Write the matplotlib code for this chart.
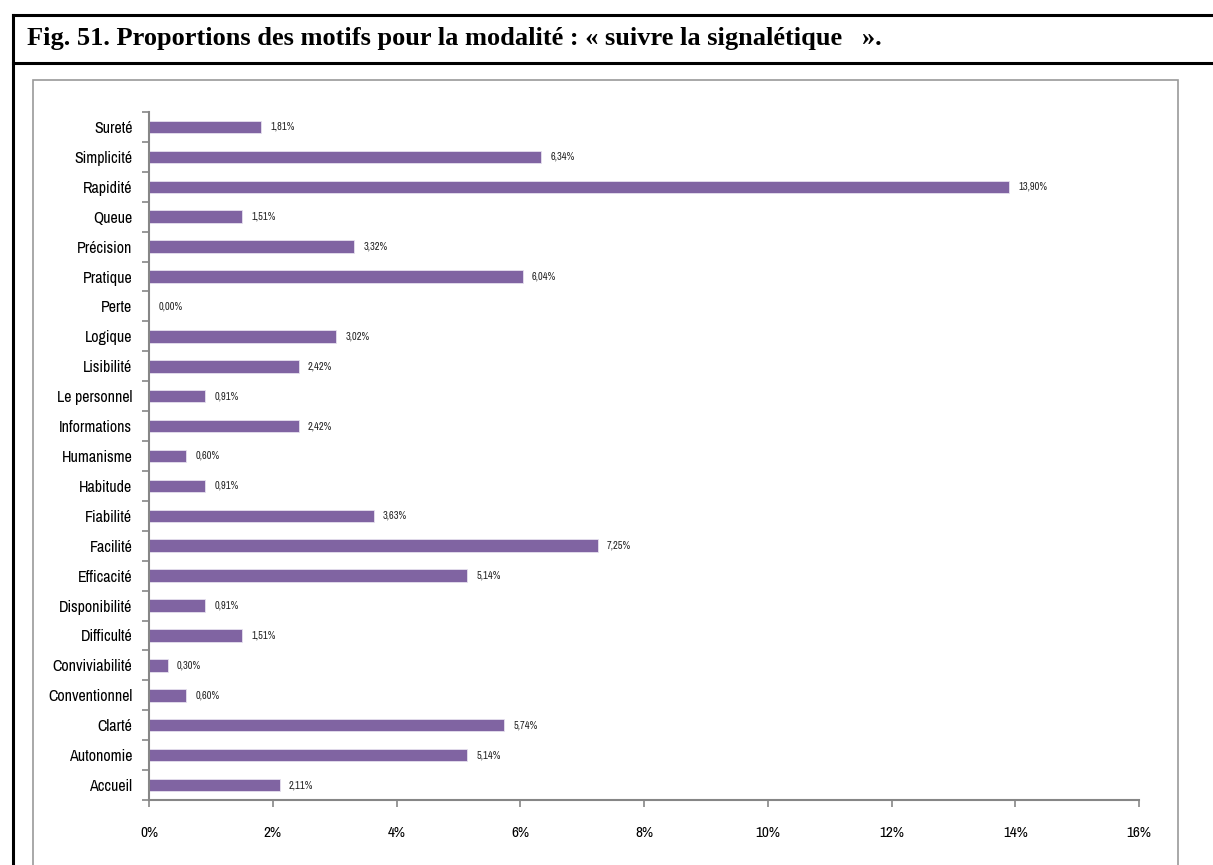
import matplotlib.pyplot as plt
from matplotlib.lines import Line2D
from matplotlib.patches import Rectangle
from matplotlib import font_manager

# data, bottom to top as in the chart
categories = ["Accueil", "Autonomie", "Clarté", "Conventionnel", "Conviviabilité",
              "Difficulté", "Disponibilité", "Efficacité", "Facilité", "Fiabilité",
              "Habitude", "Humanisme", "Informations", "Le personnel", "Lisibilité",
              "Logique", "Perte", "Pratique", "Précision", "Queue", "Rapidité",
              "Simplicité", "Sureté"]
values = [2.11, 5.14, 5.74, 0.60, 0.30, 1.51, 0.91, 5.14, 7.25, 3.63,
          0.91, 0.60, 2.42, 0.91, 2.42, 3.02, 0.00, 6.04, 3.32, 1.51, 13.90,
          6.34, 1.81]
xticks = [0, 2, 4, 6, 8, 10, 12, 14, 16]


def narrow_font():
    # look for any condensed / narrow face that is installed
    found = []
    for f in font_manager.fontManager.ttflist:
        fname = f.fname.lower()
        if ("condensed" in fname or "narrow" in fname) and "bold" not in fname \
                and "italic" not in fname and "oblique" not in fname:
            found.append(f)
    if not found:
        return None
    found.sort(key=lambda f: ("narrow" not in f.fname.lower(), f.fname))
    return font_manager.FontProperties(fname=found[0].fname)


W, H = 1213, 865
fig = plt.figure(figsize=(W / 100, H / 100), dpi=100)
nf = narrow_font()
if nf is None:
    nf = font_manager.FontProperties(family="DejaVu Sans")

# frame of the figure box
black = dict(color="black", lw=2.2, transform=fig.transFigure)
fig.add_artist(Line2D([13 / W, 13 / W], [1 - 15 / H, 0], **black))
fig.add_artist(Line2D([13 / W, 1], [1 - 15 / H, 1 - 15 / H], **black))
fig.add_artist(Line2D([13 / W, 1], [1 - 63 / H, 1 - 63 / H], **black))
fig.add_artist(Rectangle((33 / W, -0.01), (1178 - 33) / W, 1 - 80 / H + 0.01,
                         fill=False, ec="#9a9a9a", lw=1.2, transform=fig.transFigure))

fig.text(27 / W, 1 - 39 / H,
         "Fig. 51. Proportions des motifs pour la modalité : « suivre la signalétique   ».",
         family="Liberation Serif", weight="bold", fontsize=19, va="center", ha="left")

ax = fig.add_axes([149 / W, 1 - 800 / H, (1139 - 149) / W, (800 - 112) / H])
y = list(range(len(categories)))
ax.barh(y, values, height=0.42, color="#8064A2", edgecolor="#e6e0ee", linewidth=0.6)

for yi, v in zip(y, values):
    ax.text(v + 0.15, yi, f"{v:.2f}%".replace(".", ","), va="center", ha="left",
            fontproperties=nf, fontsize=7.5, color="#222222")

ax.set_xlim(0, 16)
ax.set_ylim(-0.5, len(categories) - 0.5)
ax.set_xticks(xticks)
ax.set_xticklabels([f"{t}%" for t in xticks], fontproperties=nf, fontsize=11)
ax.set_yticks([i - 0.5 for i in range(len(categories) + 1)])
ax.set_yticklabels([])
ax.set_yticks(y, minor=True)
ax.set_yticklabels(categories, minor=True, fontproperties=nf, fontsize=11.5)
ax.tick_params(axis="y", which="minor", length=0, pad=12)
ax.tick_params(axis="y", which="major", length=5, color="#868686", width=1.2)
ax.tick_params(axis="x", length=5, color="#868686", width=1.2, pad=14)

for s in ["top", "right"]:
    ax.spines[s].set_visible(False)
for s in ["left", "bottom"]:
    ax.spines[s].set_color("#868686")
    ax.spines[s].set_linewidth(1.5)

fig.savefig("out.png", dpi=100)
